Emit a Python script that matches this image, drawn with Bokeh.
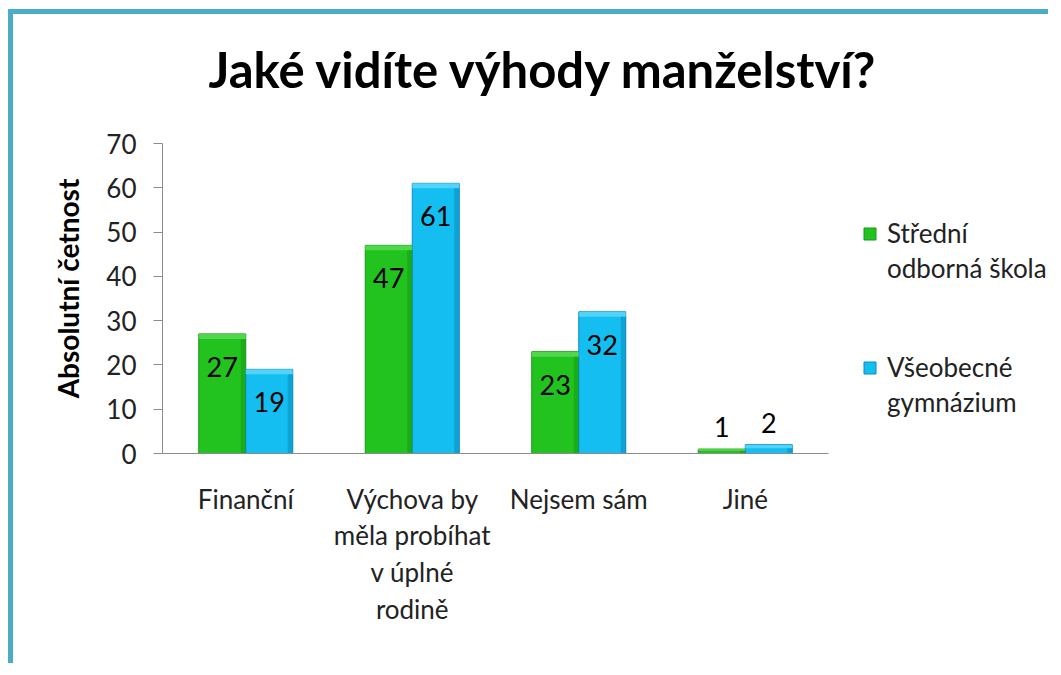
from bokeh.plotting import figure
from bokeh.models import Range1d, Legend, LegendItem, ColumnDataSource, SingleIntervalTicker, FixedTicker
from bokeh.core.properties import value
from bokeh.embed import file_html
from bokeh.resources import INLINE

# ---- data ----
categories = ["Finanční", "Výchova by\nměla probíhat\nv úplné\nrodině", "Nejsem sám", "Jiné"]
sos_values = [27, 47, 23, 1]
gym_values = [19, 61, 32, 2]
series_names = ["Střední\nodborná škola", "Všeobecné\ngymnázium"]
title_text = "Jaké vidíte výhody manželství?"
y_label = "Absolutní četnost"
y_max = 70

FONT = "Lato"
GREEN = "#22C31F"
GREEN_LIGHT = "#5EDC58"
GREEN_EDGE = "#169A14"
BLUE = "#14BEF0"
BLUE_LIGHT = "#62D8FF"
BLUE_EDGE = "#0A8CBE"
GRID = "#8C8C8C"

n = len(categories)
centers = [i + 0.5 for i in range(n)]
w = 0.2823
PX_X = 1 / 166.5          # data units per pixel, x
PX_Y = y_max / 310        # data units per pixel, y


def label_offsets(vals):
    return [33 if v >= 10 else -22 for v in vals]


def bevel(xc, vals):
    bev = [min(5 * PX_Y, v * 0.4) for v in vals]
    top = dict(left=[x - w / 2 for x in xc], right=[x + w / 2 for x in xc],
               top=list(vals), bottom=[v - b for v, b in zip(vals, bev)])
    side = dict(left=[x + w / 2 - 5 * PX_X for x in xc], right=[x + w / 2 for x in xc],
                top=[v - b for v, b in zip(vals, bev)], bottom=[0] * len(vals))
    return top, side


xs = [c - w / 2 for c in centers]
xg = [c + w / 2 for c in centers]

src = ColumnDataSource(dict(
    xs=xs, xg=xg,
    sos=sos_values, gym=gym_values,
    sos_txt=[str(v) for v in sos_values],
    gym_txt=[str(v) for v in gym_values],
    sos_off=label_offsets(sos_values),
    gym_off=label_offsets(gym_values),
))

# frame: 891 px wide (4 categories take 666 px, the rest holds the legend),
# 330 px tall (the 0..70 scale takes 310 px, the rest is headroom under the title)
p = figure(width=1040, height=654, x_range=Range1d(0, n * 891 / 666),
           y_range=Range1d(0, y_max * 330 / 310), output_backend="svg", toolbar_location=None,
           min_border_left=149, min_border_right=0, min_border_top=109, min_border_bottom=215)
p.outline_line_color = None
p.background_fill_color = "white"
p.border_fill_color = "white"

r1 = p.vbar(x="xs", top="sos", width=w, source=src,
            fill_color=GREEN, line_color=GREEN_EDGE, line_width=1)
r2 = p.vbar(x="xg", top="gym", width=w, source=src,
            fill_color=BLUE, line_color=BLUE_EDGE, line_width=1)

# bevel shading
for xc, vals, light, dark in ((xs, sos_values, GREEN_LIGHT, GREEN_EDGE), (xg, gym_values, BLUE_LIGHT, BLUE_EDGE)):
    t, s = bevel(xc, vals)
    p.quad(source=ColumnDataSource(t), left="left", right="right", top="top", bottom="bottom",
           fill_color=light, fill_alpha=0.8, line_color=None)
    p.quad(source=ColumnDataSource(s), left="left", right="right", top="top", bottom="bottom",
           fill_color=dark, fill_alpha=0.55, line_color=None)

p.text(x="xs", y="sos", text="sos_txt", y_offset="sos_off", source=src,
       text_align="center", text_baseline="middle", text_font=value(FONT), text_font_size="27px",
       text_color="black")
p.text(x="xg", y="gym", text="gym_txt", y_offset="gym_off", source=src,
       text_align="center", text_baseline="middle", text_font=value(FONT), text_font_size="27px",
       text_color="black")

# title
p.title.text = title_text
p.title.text_font = FONT
p.title.text_font_size = "49px"
p.title.text_font_style = "bold"
p.title.align = "left"
p.title.vertical_align = "top"
p.title.offset = 46
p.title.standoff = 48
p.title.text_color = "black"

# axes
p.yaxis.ticker = SingleIntervalTicker(interval=10)
p.yaxis.bounds = (0, y_max)
p.yaxis.axis_label = y_label
p.yaxis.axis_label_text_font = FONT
p.yaxis.axis_label_text_font_size = "28px"
p.yaxis.axis_label_text_font_style = "bold"
p.yaxis.axis_label_text_color = "black"
p.yaxis.axis_label_standoff = 18
p.yaxis.major_label_text_font = FONT
p.yaxis.major_label_text_font_size = "26px"
p.yaxis.major_label_text_color = "#222222"
p.yaxis.major_label_standoff = 17
p.yaxis.axis_line_color = GRID
p.yaxis.major_tick_line_color = GRID
p.yaxis.major_tick_out = 9
p.yaxis.major_tick_in = 0
p.yaxis.minor_tick_line_color = None

p.xaxis.ticker = FixedTicker(ticks=centers)
p.xaxis.major_label_overrides = {c: lab for c, lab in zip(centers, categories)}
p.xaxis.bounds = (0, n)
p.xaxis.axis_line_color = GRID
p.xaxis.major_tick_line_color = None
p.xaxis.minor_tick_line_color = None
p.xaxis.major_label_text_font = FONT
p.xaxis.major_label_text_font_size = "26px"
p.xaxis.major_label_text_color = "#222222"
p.xaxis.major_label_standoff = 23
p.xaxis.major_label_text_line_height = 1.15

p.xgrid.grid_line_color = None
p.ygrid.grid_line_color = GRID
p.ygrid.grid_line_width = 1
p.ygrid.bounds = (0, n)

# legends: first line of each series name sits beside its swatch, the wrapped line below it
blank = p.vbar(x=[], top=[], width=w, fill_alpha=0, line_alpha=0)
for name, rend, loc_y in zip(series_names, (r1, r2), (169, 35)):
    first, second = name.split("\n")
    leg = Legend(items=[LegendItem(label=first, renderers=[rend]),
                        LegendItem(label=second, renderers=[blank])],
                 location=(700, loc_y), orientation="vertical")
    leg.label_text_font = FONT
    leg.label_text_font_size = "26px"
    leg.label_text_color = "#222222"
    leg.glyph_width = 15
    leg.glyph_height = 15
    leg.label_standoff = 10
    leg.spacing = 3
    leg.padding = 0
    leg.margin = 0
    leg.border_line_color = None
    leg.background_fill_alpha = 0
    p.add_layout(leg, "center")

p.styles = {"border-left": "5px solid #4BACC6", "border-top": "5px solid #4BACC6",
            "margin-left": "8px", "margin-top": "9px"}

open("out.html", "w").write(file_html(p, INLINE))
